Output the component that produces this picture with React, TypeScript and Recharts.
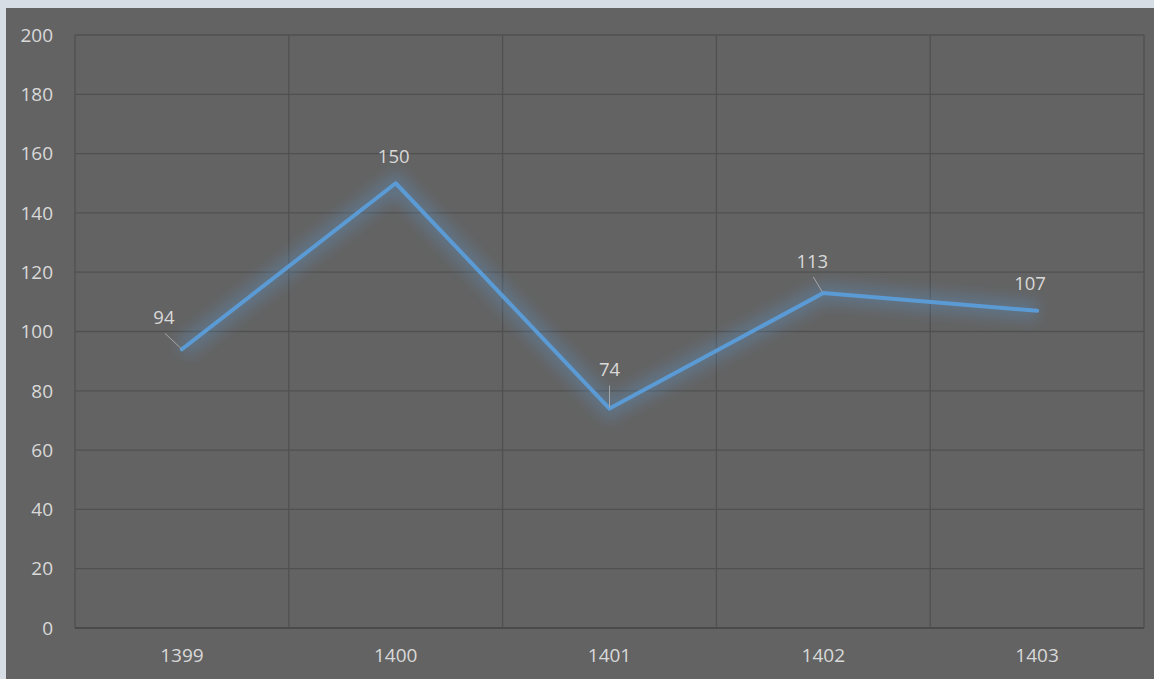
import { LineChart, Line, XAxis, YAxis, CartesianGrid, LabelList } from 'recharts'

const YEARS = ['1399', '1400', '1401', '1402', '1403']
const VALUES = [94, 150, 74, 113, 107]
const Y_TICKS = [0, 20, 40, 60, 80, 100, 120, 140, 160, 180, 200]

// label placement relative to its point, and whether a leader line is drawn
const LABEL_OFFSETS = [
  { dx: -18, dy: -32, leader: true },
  { dx: -2, dy: -27, leader: false },
  { dx: 0, dy: -39, leader: true },
  { dx: -11, dy: -32, leader: true },
  { dx: -7, dy: -27, leader: false },
]

const CHART_W = 1148
const CHART_H = 671
const Y_AXIS_W = 69
const MARGIN = { top: 27, right: 10, bottom: 0, left: 0 }
const PLOT_W = CHART_W - Y_AXIS_W - MARGIN.right - MARGIN.left
const HALF_BAND = PLOT_W / YEARS.length / 2

const TEXT = '#d9d9d9'
const GRID = '#505050'
const FONT = '"Open Sans", "Noto Sans", sans-serif'

const data = YEARS.map((year, i) => ({ year, value: VALUES[i] }))

function DataLabel(props: any) {
  const { x, y, value, index } = props
  const o = LABEL_OFFSETS[index] || { dx: 0, dy: -27, leader: false }
  const lx = x + o.dx
  const ly = y + o.dy
  return (
    <g>
      {o.leader && (
        <line x1={lx + (o.dx === 0 ? 0 : 1)} y1={ly + 16} x2={x - (o.dx === 0 ? 0 : 1)} y2={y - 1} stroke="#a6a6a6" strokeWidth={1} />
      )}
      <text x={lx} y={ly} dy="0.36em" textAnchor="middle" fill={TEXT} fontSize={18.5} fontFamily={FONT}>
        {value}
      </text>
    </g>
  )
}

export default function App() {
  return (
    <div style={{ position: 'absolute', top: 0, left: 0, width: 1154, height: 679, background: '#d6dde5', overflow: 'hidden' }}>
      <div style={{ position: 'absolute', top: 8, left: 6, width: CHART_W, height: CHART_H, background: '#636363' }}>
        <LineChart width={CHART_W} height={CHART_H} data={data} margin={MARGIN}>
          <defs>
            <filter id="glow" x="-20%" y="-30%" width="140%" height="160%">
              <feGaussianBlur stdDeviation="7" />
            </filter>
          </defs>
          <CartesianGrid
            stroke={GRID}
            strokeWidth={1.3}
            verticalCoordinatesGenerator={({ offset }: any) =>
              Array.from({ length: YEARS.length + 1 }, (_, i) => offset.left + (i * offset.width) / YEARS.length)
            }
          />
          <XAxis
            dataKey="year"
            height={51}
            padding={{ left: HALF_BAND, right: HALF_BAND }}
            tickLine={false}
            tickSize={0}
            tickMargin={21}
            axisLine={{ stroke: '#474747', strokeWidth: 1.5 }}
            tick={{ fill: TEXT, fontSize: 19, fontFamily: FONT }}
          />
          <YAxis
            width={Y_AXIS_W}
            domain={[0, 200]}
            ticks={Y_TICKS}
            interval={0}
            axisLine={false}
            tickLine={false}
            tickSize={0}
            tickMargin={22}
            tick={{ fill: TEXT, fontSize: 19, fontFamily: FONT }}
          />
          <Line
            dataKey="value"
            stroke="#5b9bd5"
            strokeWidth={20}
            strokeOpacity={0.3}
            filter="url(#glow)"
            dot={false}
            activeDot={false}
            isAnimationActive={false}
          />
          <Line
            dataKey="value"
            stroke="#5b9bd5"
            strokeWidth={4}
            strokeLinejoin="round"
            strokeLinecap="round"
            dot={false}
            activeDot={false}
            isAnimationActive={false}
          >
            <LabelList dataKey="value" content={<DataLabel />} />
          </Line>
        </LineChart>
      </div>
    </div>
  )
}
